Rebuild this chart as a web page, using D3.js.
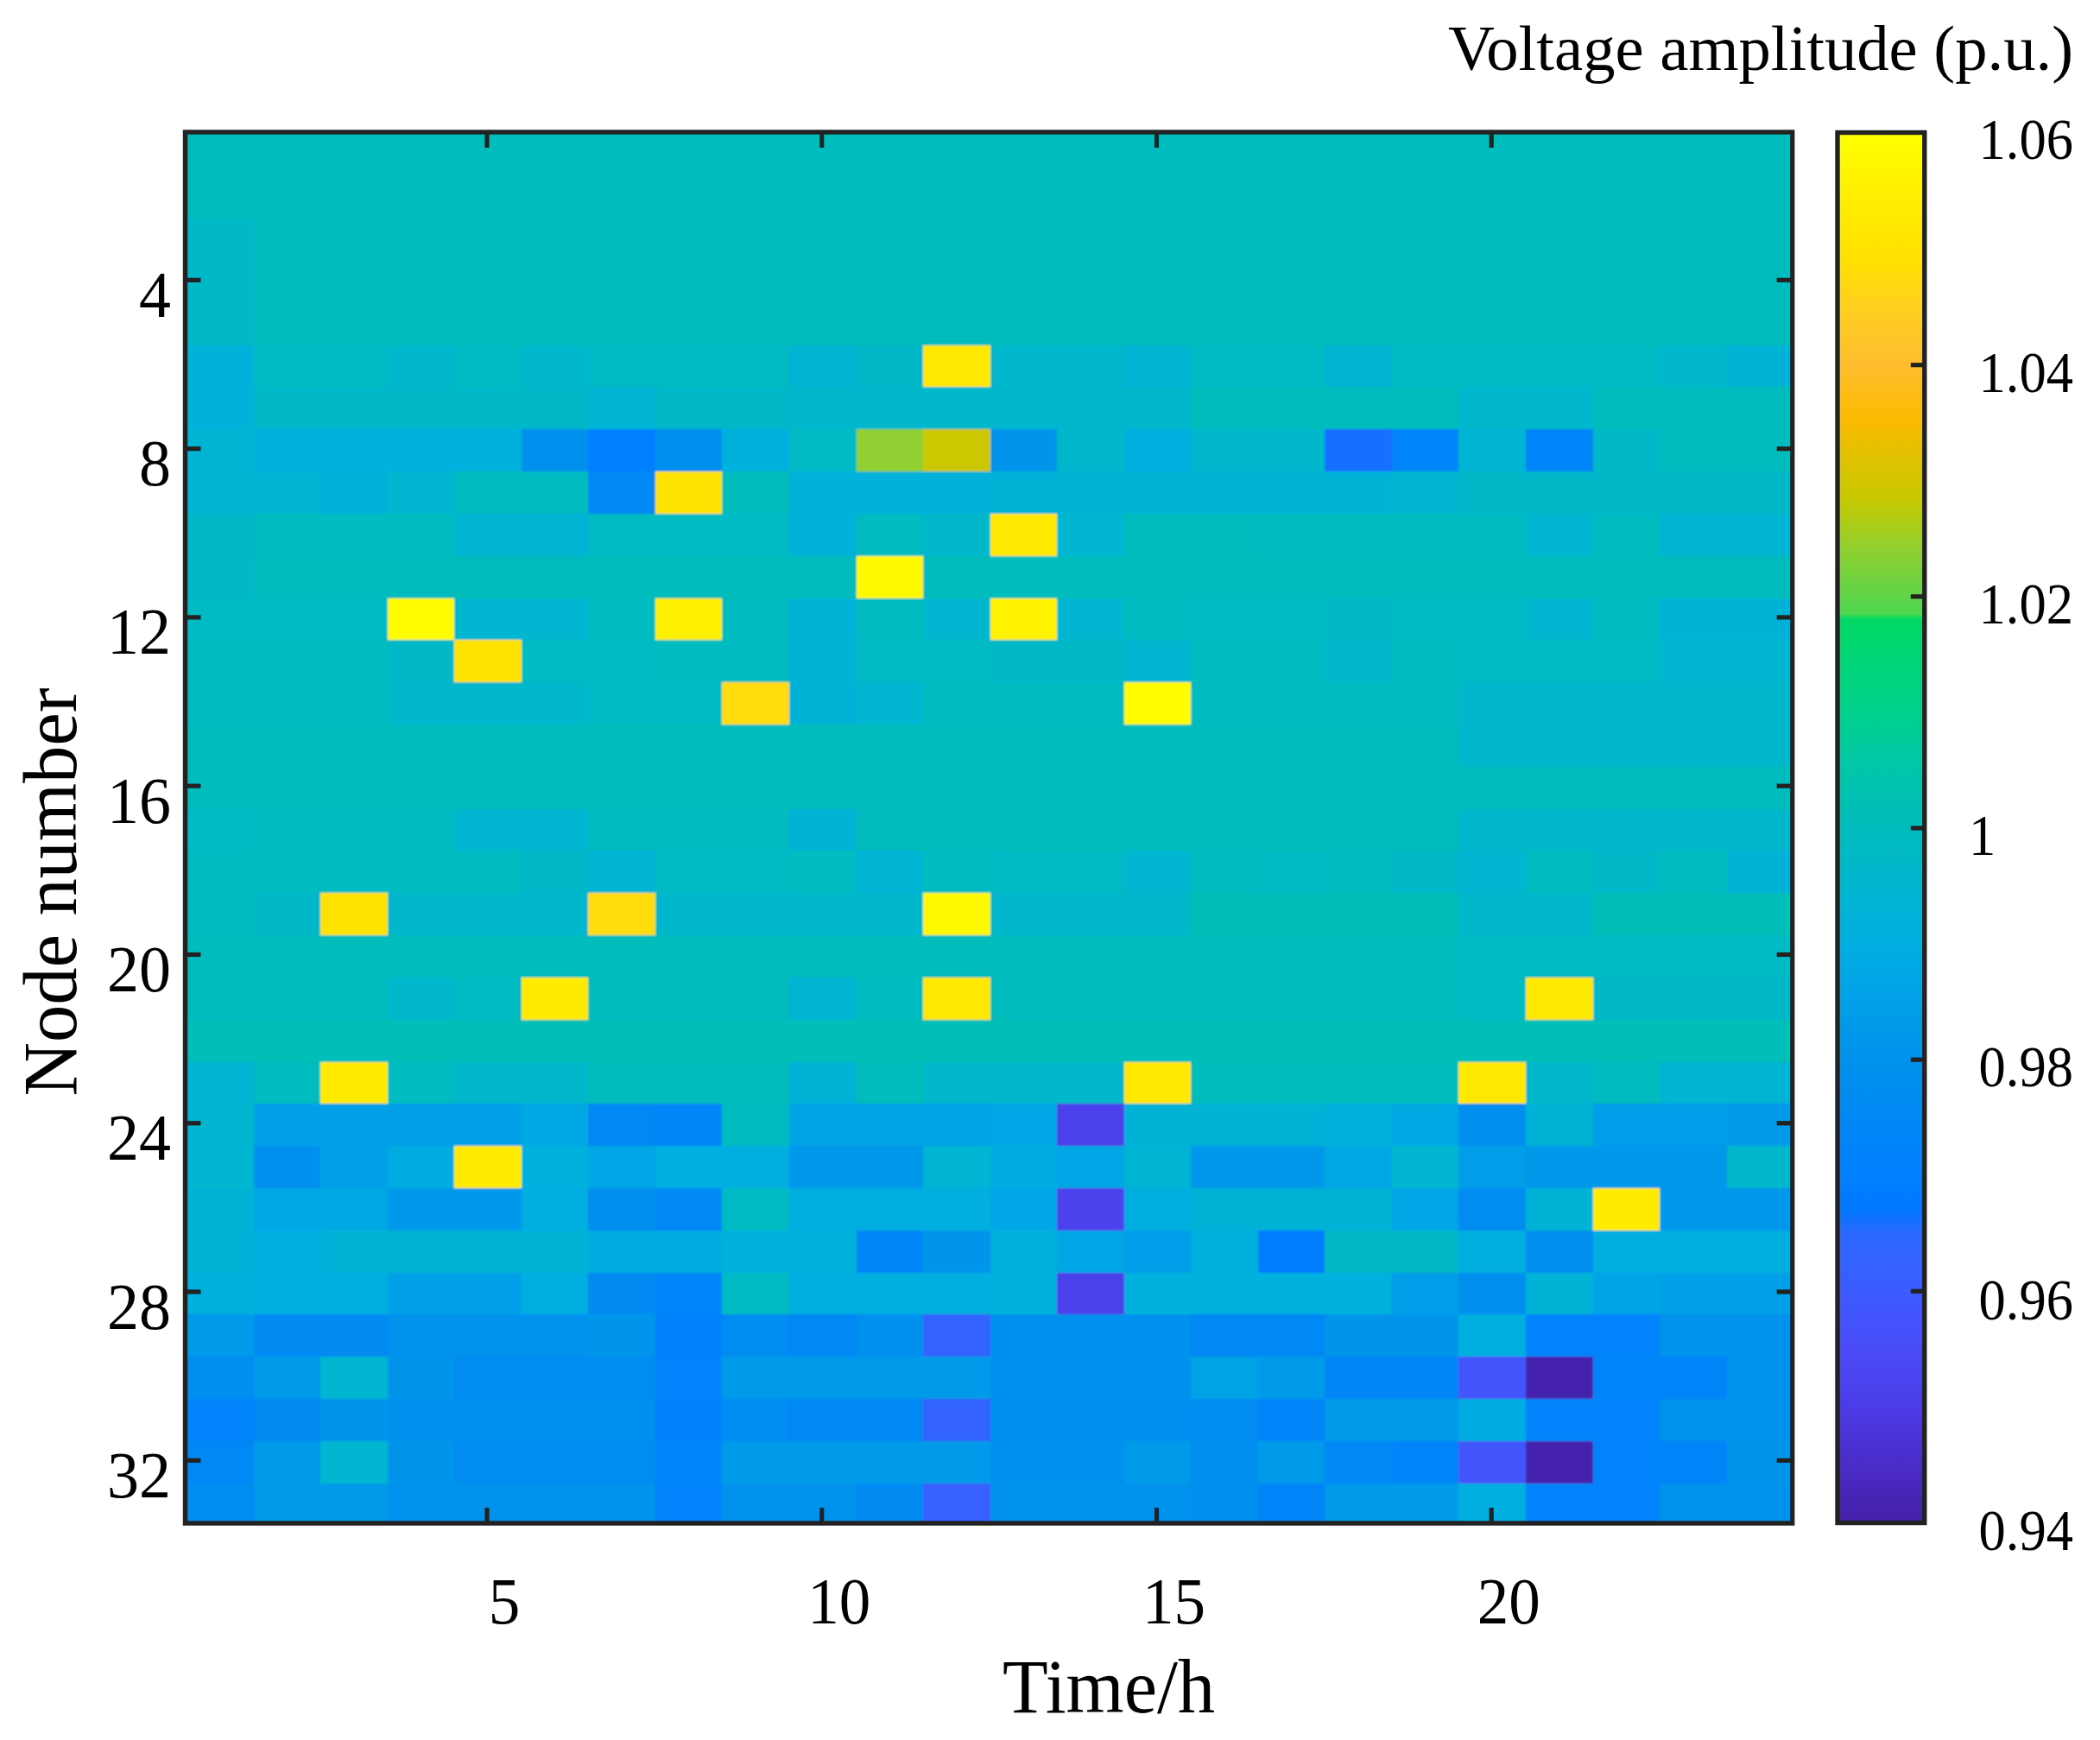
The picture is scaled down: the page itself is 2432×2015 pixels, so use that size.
<!DOCTYPE html>
<html>
<head>
<meta charset="utf-8">
<script src="https://cdn.jsdelivr.net/npm/d3@7/dist/d3.min.js"></script>
<style>
html,body{margin:0;padding:0;background:#fff}
svg{display:block}
text{font-family:"Liberation Serif","Times New Roman",serif;fill:#000}
</style>
</head>
<body>
<svg id="chart" width="2432" height="2015"></svg>
<script>
const hours = d3.range(1, 25);
const nodes = d3.range(1, 34);
const xTickValues = [5, 10, 15, 20];
const yTickValues = [4, 8, 12, 16, 20, 24, 28, 32];
const colorTickValues = [0.94, 0.96, 0.98, 1, 1.02, 1.04, 1.06];
const colorStops = [0.94,0.945,0.95,0.955,0.96,0.965,0.967,0.97,0.975,0.98,0.985,0.99,0.995,1,1.005,1.01,1.018,1.0185,1.02,1.024,1.0285,1.033,1.0353,1.04,1.045,1.049,1.055,1.06];
const colorValues = ["#4420a8","#4a2cc8","#4b3ce8","#4a4cf8","#3c5cff","#2a68ff","#0078ff","#0080ff","#0088f4","#0092ec","#00a0e8","#00aee0","#00b6d0","#00bcbc","#00c6aa","#00d08c","#00d864","#50d850","#60d448","#90d030","#c8c800","#e8c000","#fdbb00","#febd2e","#ffd020","#ffe000","#fff000","#ffff00"];
const titleText = "Voltage amplitude (p.u.)";
const xLabelText = "Time/h";
const yLabelText = "Node number";

const voltage = [
[1,1,1,1,1,1,1,1,1,1,1,1,1,1,1,1,1,1,1,1,1,1,1,1],
[1,1,1,1,1,1,1,1,1,1,1,1,1,1,1,1,1,1,1,1,1,1,1,1],
[.997,1,1,1,1,1,1,1,1,1,1,1,1,1,1,1,1,1,1,1,1,1,1,1],
[.997,1,1,1,1,1,1,1,1,1,1,1,1,1,1,1,1,1,1,1,1,1,1,1],
[.997,1,1,1,1,1,1,1,1,1,1,1,1,1,1,1,1,1,1,1,1,1,1,1],
[.992,.998,.998,.996,.998,.996,.998,.998,.998,.994,.997,1.052,.996,.996,.994,.998,.998,.994,.998,.998,.998,.998,.996,.993],
[.992,.997,.997,.997,.997,.997,.994,.997,.997,.996,.996,.996,.996,.996,.996,1,1,1,1,.996,.996,1,1,1],
[.994,.991,.991,.991,.991,.979,.970,.978,.991,.998,1.024,1.029,.981,.996,.990,.996,.996,.966,.973,.994,.973,.997,1,1],
[.994,.994,.992,.995,.999,.999,.975,1.05,1,.992,.992,.992,.993,.993,.993,.993,.993,.993,.995,.997,.997,.997,.997,.997],
[.997,.999,.999,.999,.994,.994,.998,.998,.998,.992,.999,.996,1.052,.995,1,1,.999,.999,.999,.999,.995,.999,.994,.994],
[.997,1,1,1,1,1,1,1,1,1,1.058,1,1,1,1,1,1,1,1,1,1,1,1,1],
[.998,.998,.998,1.059,.995,.995,.999,1.055,.999,.993,.999,.995,1.056,.995,.999,.998,.998,.997,.998,.998,.995,.999,.993,.993],
[.999,.999,.999,.997,1.05,.998,.998,.999,.999,.993,.998,.998,.997,.997,.995,.999,.999,.996,.999,.998,.998,.998,.995,.995],
[.999,.999,.999,.996,.996,.996,.998,.998,1.048,.993,.995,.999,.999,.999,1.059,.999,.999,.999,.999,.996,.996,.996,.996,.996],
[1,1,1,1,1,1,1,1,1,1,1,1,1,1,1,1,1,1,1,.996,.996,.996,.996,.996],
[1,1,1,1,1,1,1,1,1,1,1,1,1,1,1,1,1,1,1,1,1,1,1,1],
[.998,.999,.999,.999,.995,.995,.999,.999,.999,.993,1,1,1,1,1,1,1,1,1,.996,.996,.996,.996,.996],
[.999,.999,.999,.999,.999,.997,.994,.998,.998,.999,.994,.999,.998,.998,.995,.999,.998,.999,.997,.995,.999,.997,.999,.993],
[.999,.997,1.05,.996,.996,.996,1.048,.996,.996,.996,.996,1.058,.996,.996,.996,1.001,1.001,1.001,1.001,.996,.996,1.001,1.001,1.001],
[1,1,1,1,1,1,1,1,1,1,1,1,1,1,1,1,1,1,1,.998,.998,.998,.998,.998],
[1,1,1,.996,.998,1.053,1,1,1,.994,.999,1.052,1,1,1,1,1,1,1,.998,1.052,.997,.997,.997],
[1.001,1.001,1.001,1.001,1.001,1.001,1.001,1.001,1.001,1.001,1.001,1.001,1.001,1.001,1.001,1.001,1.001,1.001,1.001,1.001,1.001,1.001,1.001,1.001],
[.994,.999,1.053,.999,.996,.996,1,1,1,.993,1,.996,.996,.996,1.052,1,1,1,1,1.052,.996,.999,.994,.994],
[.995,.985,.985,.985,.985,.988,.975,.974,.999,.986,.986,.986,.987,.951,.993,.993,.993,.991,.988,.978,.993,.984,.984,.983],
[.995,.979,.985,.989,1.053,.991,.987,.990,.990,.982,.982,.994,.989,.987,.994,.982,.982,.988,.995,.984,.982,.982,.982,.996],
[.993,.988,.988,.982,.982,.990,.978,.975,.998,.990,.990,.990,.987,.952,.990,.993,.993,.993,.987,.977,.993,1.053,.982,.982],
[.993,.990,.993,.993,.993,.993,.989,.989,.991,.991,.974,.981,.991,.987,.984,.991,.968,.997,.997,.990,.978,.990,.990,.990],
[.991,.990,.990,.985,.985,.990,.976,.973,.998,.990,.990,.990,.991,.951,.991,.991,.991,.991,.984,.978,.993,.986,.985,.985],
[.983,.976,.976,.980,.980,.980,.981,.971,.977,.975,.979,.963,.979,.979,.979,.975,.975,.981,.981,.990,.972,.972,.980,.980],
[.978,.983,.995,.981,.977,.977,.977,.972,.983,.983,.983,.983,.979,.979,.979,.986,.983,.974,.974,.958,.941,.973,.973,.980],
[.972,.976,.981,.979,.979,.979,.979,.971,.977,.975,.975,.963,.978,.978,.978,.977,.973,.983,.983,.989,.972,.972,.980,.980],
[.975,.983,.995,.981,.977,.977,.977,.973,.983,.983,.983,.983,.979,.979,.983,.978,.983,.975,.973,.958,.941,.972,.973,.981],
[.977,.983,.983,.980,.980,.980,.980,.972,.980,.980,.976,.961,.980,.980,.980,.978,.973,.983,.983,.990,.972,.972,.980,.980]
];

const INK = "#222";
const plotLeft = 214.5, plotRight = 2075.7, plotTop = 153, plotBottom = 1764;
const cbLeft = 2128, cbRight = 2228.8, cbTop = 154, cbBottom = 1763;

const svg = d3.select("#chart");
const x = d3.scaleLinear().domain([0.5, 24.5]).range([plotLeft, plotRight]);
const y = d3.scaleLinear().domain([0.5, 33.5]).range([plotTop, plotBottom]);
const color = d3.scaleLinear().domain(colorStops).range(colorValues).interpolate(d3.interpolateRgb);
const cbY = d3.scaleLinear().domain([0.94, 1.06]).range([cbBottom, cbTop]);

const defs = svg.append("defs");
defs.append("clipPath").attr("id", "plotClip").append("rect")
  .attr("x", plotLeft).attr("y", plotTop).attr("width", plotRight - plotLeft).attr("height", plotBottom - plotTop);
const blur = defs.append("filter").attr("id", "soft")
  .attr("filterUnits", "userSpaceOnUse")
  .attr("x", plotLeft - 10).attr("y", plotTop - 10).attr("width", plotRight - plotLeft + 20).attr("height", plotBottom - plotTop + 20);
blur.append("feGaussianBlur").attr("stdDeviation", 1.1);
const grad = defs.append("linearGradient").attr("id", "cbGrad")
  .attr("x1", 0).attr("x2", 0).attr("y1", 1).attr("y2", 0);
colorStops.forEach((s, i) => grad.append("stop")
  .attr("offset", (s - 0.94) / 0.12).attr("stop-color", colorValues[i]));

// heat map (the raster sits a hair right of and below the axes grid)
const cells = [];
voltage.forEach((row, r) => row.forEach((v, c) => cells.push({node: nodes[r], hour: hours[c], v})));
const plotClip = svg.append("g").attr("clip-path", "url(#plotClip)");
plotClip.append("rect")
  .attr("x", plotLeft).attr("y", plotTop)
  .attr("width", plotRight - plotLeft).attr("height", plotBottom - plotTop)
  .attr("fill", color(1));
plotClip.append("g").attr("transform", "translate(1.5,2.5)")
  .append("g").attr("filter", "url(#soft)")
  .selectAll("rect").data(cells).join("rect")
  .attr("x", d => x(d.hour - 0.5))
  .attr("y", d => y(d.node - 0.5))
  .attr("width", d => x(d.hour + 0.5) - x(d.hour - 0.5) + 0.6)
  .attr("height", d => y(d.node + 0.5) - y(d.node - 0.5) + 0.6)
  .attr("fill", d => color(d.v))
  .attr("shape-rendering", "crispEdges");

function styleAxis(g) {
  g.select(".domain").remove();
  g.selectAll(".tick line").attr("stroke", INK).attr("stroke-width", 5.2);
}
const TICK = 18;

// bottom
const gB = svg.append("g").attr("transform", `translate(0,${plotBottom})`)
  .call(d3.axisBottom(x).tickValues(xTickValues).tickSize(-TICK).tickFormat(d3.format("d")));
styleAxis(gB);
gB.selectAll(".tick text")
  .attr("y", 0).attr("dy", 0).attr("text-anchor", "middle")
  .attr("font-size", 77)
  .attr("transform", `translate(20,${1880 - plotBottom}) scale(.95,1)`);
// top
styleAxis(svg.append("g").attr("transform", `translate(0,${plotTop})`)
  .call(d3.axisTop(x).tickValues(xTickValues).tickSize(-TICK).tickFormat("")));
// left
const gL = svg.append("g").attr("transform", `translate(${plotLeft},0)`)
  .call(d3.axisLeft(y).tickValues(yTickValues).tickSize(-TICK).tickFormat(d3.format("d")));
styleAxis(gL);
gL.selectAll(".tick text")
  .attr("x", 0).attr("dy", 0).attr("text-anchor", "end")
  .attr("font-size", 77)
  .attr("transform", `translate(${198 - plotLeft},42.5) scale(.96,1)`);
// right
styleAxis(svg.append("g").attr("transform", `translate(${plotRight},0)`)
  .call(d3.axisRight(y).tickValues(yTickValues).tickSize(-TICK).tickFormat("")));

// frame
svg.append("rect").attr("x", plotLeft).attr("y", plotTop)
  .attr("width", plotRight - plotLeft).attr("height", plotBottom - plotTop)
  .attr("fill", "none").attr("stroke", INK).attr("stroke-width", 5.4);

// colour bar
svg.append("rect").attr("x", cbLeft).attr("y", cbTop)
  .attr("width", cbRight - cbLeft).attr("height", cbBottom - cbTop)
  .attr("fill", "url(#cbGrad)");
const gC = svg.append("g").attr("transform", `translate(${cbRight},0)`)
  .call(d3.axisRight(cbY).tickValues(colorTickValues).tickSize(-16).tickFormat(d => String(d)));
styleAxis(gC);
gC.selectAll(".tick").filter(d => d === 0.94 || d === 1.06).select("line").remove();
gC.selectAll(".tick text")
  .attr("x", 0).attr("dy", 0)
  .attr("text-anchor", d => d === 1 ? "start" : "end")
  .attr("font-size", 68)
  .attr("transform", d => d === 1
    ? `translate(${2280 - cbRight},31) scale(.92,1)`
    : `translate(${2401 - cbRight},${d === 1.06 ? 29 : d === 0.96 ? 33 : 31}) scale(.92,1)`);
svg.append("rect").attr("x", cbLeft).attr("y", cbTop - 0.5)
  .attr("width", cbRight - cbLeft).attr("height", cbBottom - cbTop + 1)
  .attr("fill", "none").attr("stroke", INK).attr("stroke-width", 5.4);

// titles
svg.append("text").attr("x", 2401).attr("y", 81)
  .attr("text-anchor", "end").attr("font-size", 74)
  .attr("textLength", 724).attr("lengthAdjust", "spacingAndGlyphs")
  .text(titleText);
svg.append("text").attr("x", 1284).attr("y", 1983)
  .attr("text-anchor", "middle").attr("font-size", 89)
  .attr("textLength", 246).attr("lengthAdjust", "spacingAndGlyphs")
  .text(xLabelText);
svg.append("text").attr("transform", "translate(88,1033) rotate(-90)")
  .attr("text-anchor", "middle").attr("font-size", 89)
  .attr("textLength", 473).attr("lengthAdjust", "spacingAndGlyphs")
  .text(yLabelText);
</script>
</body>
</html>
